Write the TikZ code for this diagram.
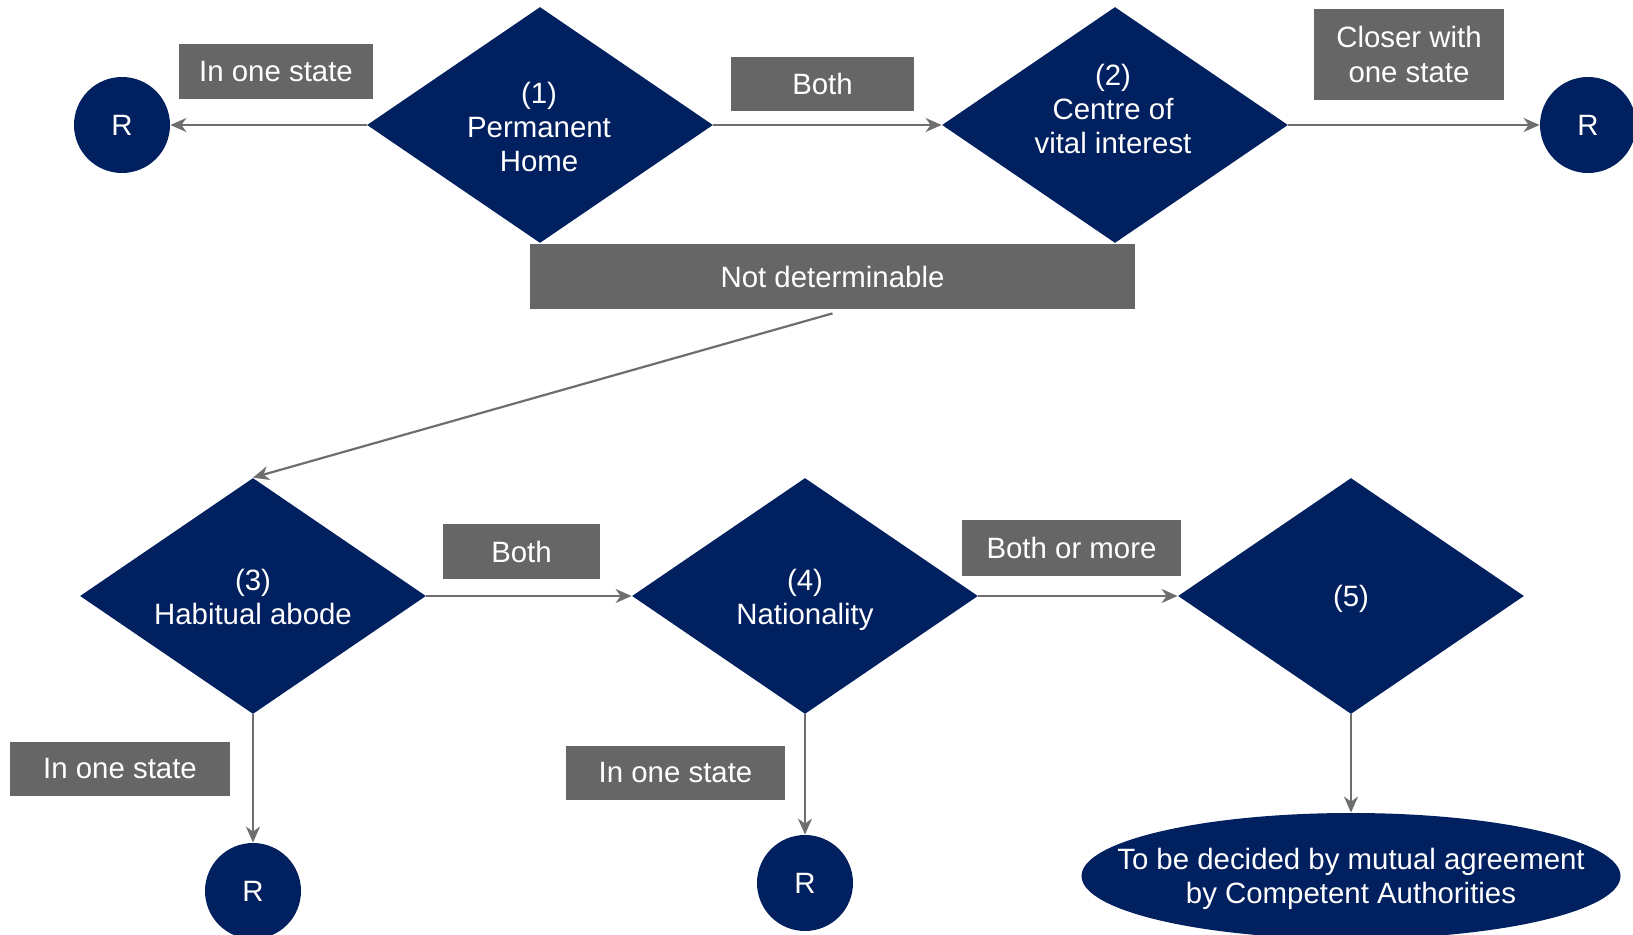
\documentclass[tikz,border=0pt]{standalone}
\usepackage{fontspec}
\setmainfont{Liberation Sans}
\usetikzlibrary{shapes.geometric,arrows.meta}
\definecolor{navy}{HTML}{012060}
\definecolor{tagGray}{HTML}{666666}
\definecolor{lineGray}{HTML}{6E6E6E}
\begin{document}
\begin{tikzpicture}[x=0.5pt,y=-0.5pt,
  every node/.style={font=\fontsize{14.7}{17.2}\selectfont, text=white, align=center},
  decision/.style={diamond, fill=navy, minimum width=173pt, minimum height=118pt, inner sep=0pt},
  result/.style={circle, fill=navy, minimum size=48pt, inner sep=0pt},
  tag/.style={fill=tagGray, inner sep=0pt},
  flow/.style={draw=lineGray, line width=1.1pt, -{Stealth[length=8pt,width=7pt,inset=2.5pt]}}
]
\useasboundingbox (0,0) rectangle (1633,935);
\begin{scope}
\clip (0,0) rectangle (1633,935);

% decision diamonds
\node[decision] (d1) at (540,125) {};
\node[decision] (d2) at (1115,125) {};
\node[decision] (d3) at (253,596) {};
\node[decision] (d4) at (805,596) {};
\node[decision] (d5) at (1351,596) {};

\node (t1) at (539,127) {(1)\\Permanent\\Home};
\node (t2) at (1113,109) {(2)\\Centre of\\vital interest};
\node (t3) at (253,597) {(3)\\Habitual abode};
\node (t4) at (805,600) {(4)\\Nationality};
\node (t5) at (1351,599) {(5)};

% outcomes
\node[result] (r1) at (122,125) {R};
\node[result] (r2) at (1588,125) {R};
\node[result] (r3) at (253,891) {R};
\node[result] (r4) at (805,883) {R};
\node[ellipse, fill=navy, minimum width=269.5pt, minimum height=63pt, inner sep=0pt] (mutual) at (1351,876) {};
\node (mt) at (1351,879) {To be decided by mutual agreement\\by Competent Authorities};

% condition tags
\node[tag, minimum width=97pt, minimum height=27.5pt] (l1) at (276,71.5) {In one state};
\node[tag, minimum width=91.5pt, minimum height=27pt] (l2) at (822.5,84) {Both};
\node[tag, minimum width=95pt, minimum height=45.5pt] (l3) at (1409,54.5) {Closer with\\one state};
\node[tag, minimum width=302.5pt, minimum height=32.5pt] (nd) at (832.5,276.5) {Not determinable};
\node[tag, minimum width=78.5pt, minimum height=27.5pt] (l4) at (521.5,551.5) {Both};
\node[tag, minimum width=109.5pt, minimum height=28pt] (l5) at (1071.5,548) {Both or more};
\node[tag, minimum width=110pt, minimum height=27pt] (l6) at (120,769) {In one state};
\node[tag, minimum width=109.5pt, minimum height=27pt] (l7) at (675.5,773) {In one state};

% connectors
\draw[flow] (d1.west) -- (r1.east);
\draw[flow] (d1.east) -- (d2.west);
\draw[flow] (d2.east) -- (r2.west);
\draw[flow] ([yshift=-2pt]nd.south) -- (d3.north);
\draw[flow] (d3.east) -- (d4.west);
\draw[flow] (d4.east) -- (d5.west);
\draw[flow] (d3.south) -- (r3.north);
\draw[flow] (d4.south) -- (r4.north);
\draw[flow] (d5.south) -- (mutual.north);
\end{scope}
\end{tikzpicture}
\end{document}
